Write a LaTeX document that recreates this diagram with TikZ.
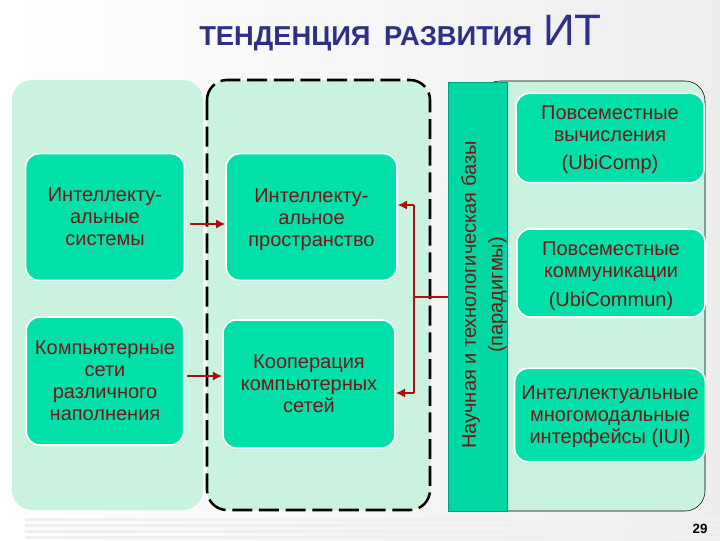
\documentclass[tikz,border=0pt]{standalone}
\usepackage{fontspec}
\setmainfont{Liberation Sans}
\usetikzlibrary{arrows.meta}
\definecolor{panelgreen}{HTML}{C9F3DF}
\definecolor{boxgreen}{HTML}{00E0A8}
\definecolor{bargreen}{HTML}{00D8A4}
\definecolor{baredge}{HTML}{00A080}
\definecolor{textred}{HTML}{701818}
\definecolor{arrowred}{HTML}{B00D0D}
\definecolor{titleblue}{HTML}{2E3086}
\newcommand{\toppad}[1]{\rule{0pt}{#1pt}}
\tikzset{
	panel/.style={fill=panelgreen, rounded corners=15pt},
	textbox/.style={fill=boxgreen, draw=white, line width=1.2pt, rounded corners=10pt, inner sep=0pt, text=textred, align=center, font=\fontsize{15}{16.5}\selectfont},
	flowarrow/.style={draw=arrowred, -{Latex[length=7pt,width=7pt]}},
}
\begin{document}
\begin{tikzpicture}[x=0.75pt, y=-0.75pt]
	\useasboundingbox (0,0) rectangle (720,540);
	\fill[left color=white, right color=black!7] (0,0) rectangle (720,540);
	\foreach \y in {518,524,530,536} {
		\fill[black!6] (25,\y) rectangle (720,\y+3);
	}
	\node[text=titleblue, anchor=base west, font=\fontsize{20.5}{21}\selectfont\bfseries, inner sep=0pt] (titletext) at (199,45.5) {ТЕНДЕНЦИЯ\hspace{4.5pt} РАЗВИТИЯ};
	\node[text=titleblue, anchor=base west, font=\fontsize{33}{33}\selectfont, inner sep=0pt] (titleit) at (543,45.5) {ИТ};
	\fill[panel] (12,80) rectangle (203,510);
	\draw[panel, draw=black, line width=1.9pt, dash pattern=on 15pt off 5pt] (207,80) rectangle (430,510);
	\draw[panel, draw=black, thin] (480,81) rectangle (705,511);
	\node[fill=bargreen, draw=baredge, line width=0.8pt, minimum width=44pt, minimum height=322pt, inner sep=0pt] (basebar) at (478,297) {};
	\node[rotate=90, inner sep=0pt, text=textred, align=center, font=\fontsize{15}{20}\selectfont] (bartext) at (484,295) {Научная и технологическая базы\\(парадигмы)};
	\node[textbox, minimum width=119pt, minimum height=95pt] (systems) at (105,217) {Интеллекту-\\альные\\системы};
	\node[textbox, minimum width=128pt, minimum height=95pt] (space) at (311.5,217) {\toppad{14}Интеллекту-\\альное\\пространство};
	\node[textbox, minimum width=118pt, minimum height=96pt] (networks) at (105,381) {Компьютерные\\сети\\различного\\наполнения};
	\node[textbox, minimum width=129pt, minimum height=96pt] (cooperation) at (309,384) {Кооперация\\компьютерных\\сетей};
	\node[textbox, minimum width=141pt, minimum height=67pt] (ubicomp) at (610,138) {\toppad{13}Повсеместные\\вычисления\\[5pt](UbiComp)};
	\node[textbox, minimum width=141pt, minimum height=66pt] (ubicommun) at (611,273) {\toppad{15.5}Повсеместные\\коммуникации\\[5pt](UbiCommun)};
	\node[textbox, minimum width=143pt, minimum height=70pt] (iui) at (610,415) {\toppad{13}Интеллектуальные\\многомодальные\\интерфейсы (IUI)};
	\node[font=\fontsize{10}{12}\selectfont\bfseries, inner sep=0pt] (pagenum) at (700,529) {29};
	\coordinate (systemsout) at (190,224);
	\coordinate (networksout) at (187,376);
	\coordinate (elbowtop) at (414,205);
	\coordinate (elbowbottom) at (414,393);
	\draw[flowarrow, line width=1.4pt] (systemsout) -- (space.west |- systemsout);
	\draw[flowarrow, line width=2.2pt] (networksout) -- (cooperation.west |- networksout);
	\draw[flowarrow, line width=2pt] (elbowtop) -- (space.east |- elbowtop);
	\draw[flowarrow, line width=2pt] (elbowbottom) -- (cooperation.east |- elbowbottom);
	\draw[draw=arrowred, line width=2pt] (elbowtop) -- (elbowbottom);
	\draw[draw=arrowred, line width=1pt] (basebar.west) -- (elbowtop |- basebar.west);
\end{tikzpicture}
\end{document}
